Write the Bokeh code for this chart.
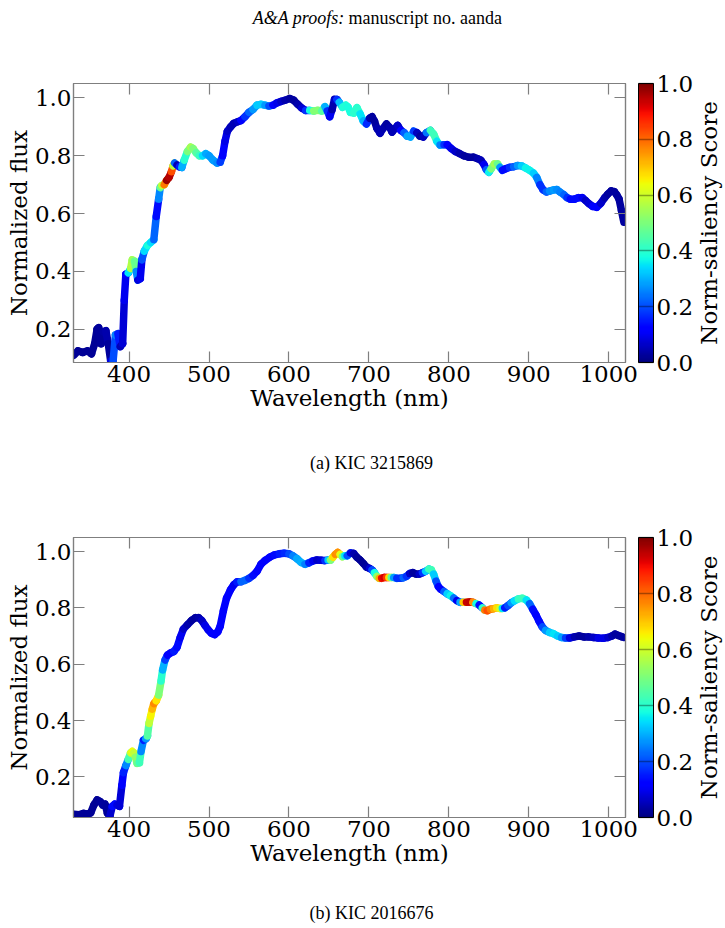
import numpy as np
from bokeh.plotting import figure
from bokeh.models import (LinearAxis, Range1d, ColorBar, LinearColorMapper,
                          FixedTicker, PrintfTickFormatter, Label, ColumnDataSource)
from bokeh.layouts import column, row
from bokeh.embed import file_html
from bokeh.resources import INLINE

# ---- KIC 3215869 ----
wl_a = [331, 336, 342, 348, 353, 357, 360, 362, 365, 368,
        371, 374, 377, 380, 383, 386, 389, 392, 394, 396,
        399, 402, 404, 407, 409, 411, 414, 416, 419, 423,
        427, 431, 434, 437, 439, 441, 444, 447, 450, 453,
        455, 457, 460, 463, 466, 469, 473, 477, 480, 484,
        488, 492, 496, 500, 505, 510, 514, 517, 520, 523,
        527, 531, 536, 540, 545, 550, 555, 560, 565, 570,
        575, 580, 585, 590, 595, 601, 606, 611, 616, 621,
        626, 631, 636, 641, 645, 648, 651, 654, 657, 660,
        663, 667, 671, 674, 677, 681, 685, 689, 693, 697,
        701, 704, 707, 710, 714, 718, 722, 726, 729, 733,
        736, 740, 744, 748, 752, 756, 760, 764, 768, 772,
        777, 781, 785, 789, 794, 798, 803, 808, 813, 819,
        825, 831, 836, 840, 844, 847, 850, 853, 857, 861,
        864, 867, 871, 876, 881, 886, 891, 896, 901, 906,
        910, 914, 918, 922, 926, 931, 935, 939, 944, 948,
        952, 957, 962, 967, 971, 975, 980, 985, 990, 995,
        999, 1003, 1007, 1010, 1013, 1016, 1019]
flux_a = [0.110, 0.125, 0.120, 0.125, 0.115, 0.150, 0.200, 0.205, 0.150, 0.190,
          0.195, 0.150, 0.090, 0.090, 0.180, 0.185, 0.140, 0.150, 0.300, 0.390,
          0.395, 0.410, 0.440, 0.435, 0.400, 0.370, 0.375, 0.440, 0.470, 0.490,
          0.500, 0.510, 0.590, 0.650, 0.690, 0.697, 0.700, 0.715, 0.725, 0.745,
          0.765, 0.775, 0.768, 0.762, 0.760, 0.785, 0.815, 0.830, 0.825, 0.810,
          0.800, 0.800, 0.807, 0.800, 0.785, 0.775, 0.778, 0.800, 0.850, 0.885,
          0.900, 0.912, 0.918, 0.922, 0.935, 0.950, 0.960, 0.975, 0.978, 0.975,
          0.972, 0.975, 0.983, 0.988, 0.992, 0.998, 0.992, 0.978, 0.965, 0.957,
          0.957, 0.955, 0.957, 0.955, 0.970, 0.955, 0.935, 0.960, 0.995, 0.995,
          0.985, 0.968, 0.975, 0.968, 0.950, 0.948, 0.966, 0.945, 0.920, 0.910,
          0.930, 0.935, 0.920, 0.895, 0.878, 0.895, 0.910, 0.898, 0.882, 0.895,
          0.905, 0.888, 0.880, 0.868, 0.865, 0.885, 0.880, 0.868, 0.865, 0.880,
          0.888, 0.875, 0.850, 0.837, 0.838, 0.838, 0.825, 0.815, 0.808, 0.800,
          0.795, 0.795, 0.790, 0.785, 0.770, 0.752, 0.743, 0.755, 0.772, 0.772,
          0.760, 0.750, 0.755, 0.760, 0.762, 0.766, 0.765, 0.758, 0.750, 0.740,
          0.725, 0.700, 0.682, 0.675, 0.678, 0.682, 0.683, 0.675, 0.665, 0.655,
          0.650, 0.650, 0.655, 0.655, 0.645, 0.635, 0.625, 0.622, 0.635, 0.655,
          0.668, 0.678, 0.676, 0.665, 0.650, 0.610, 0.570]
score_a = [0.02, 0.02, 0.02, 0.02, 0.02, 0.02, 0.02, 0.02, 0.03, 0.02,
           0.05, 0.03, 0.02, 0.15, 0.25, 0.25, 0.05, 0.05, 0.10, 0.10,
           0.15, 0.55, 0.58, 0.50, 0.45, 0.08, 0.08, 0.12, 0.30, 0.38,
           0.38, 0.30, 0.15, 0.12, 0.40, 0.55, 0.62, 0.95, 1.00, 0.90,
           0.75, 0.40, 0.05, 0.05, 0.25, 0.35, 0.45, 0.55, 0.55, 0.45,
           0.45, 0.38, 0.30, 0.28, 0.28, 0.28, 0.25, 0.12, 0.10, 0.08,
           0.05, 0.05, 0.05, 0.08, 0.15, 0.20, 0.25, 0.30, 0.35, 0.30,
           0.25, 0.15, 0.10, 0.08, 0.05, 0.03, 0.03, 0.03, 0.05, 0.10,
           0.25, 0.50, 0.52, 0.50, 0.40, 0.20, 0.15, 0.05, 0.03, 0.10,
           0.25, 0.38, 0.40, 0.38, 0.38, 0.38, 0.42, 0.38, 0.32, 0.28,
           0.05, 0.03, 0.03, 0.03, 0.05, 0.05, 0.03, 0.03, 0.05, 0.05,
           0.05, 0.08, 0.15, 0.28, 0.30, 0.28, 0.08, 0.03, 0.03, 0.08,
           0.40, 0.45, 0.40, 0.30, 0.20, 0.15, 0.10, 0.08, 0.05, 0.03,
           0.03, 0.03, 0.03, 0.05, 0.05, 0.15, 0.28, 0.45, 0.55, 0.55,
           0.40, 0.15, 0.12, 0.15, 0.20, 0.25, 0.30, 0.35, 0.38, 0.35,
           0.30, 0.20, 0.15, 0.20, 0.25, 0.28, 0.28, 0.25, 0.25, 0.20,
           0.15, 0.12, 0.15, 0.12, 0.08, 0.05, 0.10, 0.15, 0.08, 0.05,
           0.03, 0.03, 0.03, 0.03, 0.03, 0.03, 0.03]

# ---- KIC 2016676 ----
wl_b = [331, 337, 343, 348, 352, 356, 360, 364, 367, 370,
        373, 376, 379, 382, 385, 388, 391, 393, 396, 399,
        402, 404, 406, 408, 410, 413, 415, 418, 421, 423,
        425, 427, 429, 431, 434, 437, 440, 442, 445, 448,
        452, 456, 460, 464, 468, 473, 478, 483, 487, 491,
        495, 499, 503, 507, 511, 514, 518, 522, 527, 531,
        535, 540, 545, 550, 555, 560, 565, 570, 576, 582,
        588, 594, 600, 605, 610, 615, 620, 625, 630, 635,
        640, 645, 649, 652, 655, 658, 661, 664, 667, 670,
        673, 677, 681, 685, 689, 693, 697, 701, 704, 707,
        710, 713, 716, 719, 722, 725, 728, 731, 735, 739,
        743, 747, 751, 755, 759, 763, 767, 771, 775, 778,
        781, 784, 787, 790, 794, 798, 802, 806, 810, 814,
        818, 822, 826, 830, 834, 838, 842, 845, 848, 852,
        856, 860, 864, 867, 870, 874, 878, 882, 887, 892,
        897, 901, 905, 909, 913, 917, 921, 926, 931, 936,
        941, 946, 951, 957, 963, 969, 975, 981, 987, 993,
        999, 1004, 1008, 1012, 1016, 1019]
flux_b = [0.067, 0.065, 0.070, 0.068, 0.072, 0.100, 0.118, 0.112, 0.100, 0.103,
          0.070, 0.060, 0.095, 0.103, 0.100, 0.095, 0.170, 0.215, 0.240, 0.262,
          0.285, 0.290, 0.285, 0.270, 0.248, 0.250, 0.290, 0.330, 0.335, 0.345,
          0.390, 0.415, 0.440, 0.460, 0.470, 0.490, 0.540, 0.580, 0.615, 0.632,
          0.640, 0.645, 0.660, 0.695, 0.725, 0.740, 0.755, 0.765, 0.765, 0.755,
          0.738, 0.722, 0.710, 0.705, 0.715, 0.735, 0.790, 0.835, 0.865, 0.882,
          0.892, 0.893, 0.898, 0.905, 0.915, 0.930, 0.955, 0.968, 0.980, 0.988,
          0.992, 0.994, 0.992, 0.985, 0.975, 0.962, 0.955, 0.960, 0.967, 0.970,
          0.969, 0.968, 0.970, 0.970, 0.980, 0.990, 0.997, 0.990, 0.982, 0.985,
          0.985, 0.995, 0.993, 0.980, 0.970, 0.958, 0.945, 0.940, 0.935, 0.925,
          0.912, 0.905, 0.905, 0.908, 0.908, 0.908, 0.908, 0.908, 0.905, 0.905,
          0.907, 0.912, 0.922, 0.925, 0.920, 0.920, 0.925, 0.930, 0.938, 0.935,
          0.920, 0.895, 0.875, 0.866, 0.858, 0.850, 0.843, 0.835, 0.826, 0.820,
          0.820, 0.820, 0.821, 0.820, 0.815, 0.810, 0.800, 0.792, 0.790, 0.795,
          0.797, 0.800, 0.798, 0.798, 0.800, 0.808, 0.818, 0.825, 0.832, 0.834,
          0.828, 0.815, 0.795, 0.775, 0.752, 0.732, 0.720, 0.713, 0.708, 0.700,
          0.695, 0.693, 0.693, 0.697, 0.700, 0.697, 0.697, 0.695, 0.693, 0.692,
          0.695, 0.700, 0.707, 0.702, 0.698, 0.695]
score_b = [0.02, 0.02, 0.02, 0.02, 0.02, 0.02, 0.02, 0.02, 0.03, 0.03,
           0.02, 0.02, 0.12, 0.15, 0.12, 0.05, 0.10, 0.12, 0.20, 0.32,
           0.55, 0.65, 0.62, 0.55, 0.50, 0.45, 0.40, 0.12, 0.20, 0.35,
           0.55, 0.62, 0.68, 0.75, 0.78, 0.55, 0.45, 0.35, 0.25, 0.12,
           0.10, 0.15, 0.15, 0.12, 0.08, 0.05, 0.03, 0.03, 0.03, 0.05,
           0.08, 0.10, 0.10, 0.12, 0.12, 0.12, 0.12, 0.12, 0.12, 0.10,
           0.10, 0.20, 0.25, 0.20, 0.15, 0.12, 0.12, 0.12, 0.12, 0.12,
           0.15, 0.15, 0.18, 0.22, 0.28, 0.30, 0.30, 0.20, 0.12, 0.08,
           0.05, 0.10, 0.25, 0.40, 0.62, 0.72, 0.80, 0.70, 0.55, 0.40,
           0.30, 0.12, 0.05, 0.03, 0.02, 0.02, 0.02, 0.05, 0.10, 0.30,
           0.45, 0.60, 0.85, 0.95, 0.90, 0.80, 0.55, 0.35, 0.20, 0.15,
           0.20, 0.25, 0.10, 0.03, 0.03, 0.03, 0.10, 0.25, 0.40, 0.45,
           0.40, 0.25, 0.15, 0.10, 0.15, 0.28, 0.38, 0.35, 0.12, 0.08,
           0.50, 0.90, 0.97, 0.92, 0.60, 0.15, 0.12, 0.70, 0.85, 0.80,
           0.75, 0.70, 0.65, 0.55, 0.15, 0.15, 0.25, 0.30, 0.38, 0.45,
           0.40, 0.30, 0.15, 0.12, 0.12, 0.15, 0.25, 0.30, 0.35, 0.35,
           0.30, 0.25, 0.12, 0.05, 0.03, 0.03, 0.03, 0.05, 0.08, 0.10,
           0.08, 0.05, 0.03, 0.03, 0.03, 0.03]

x_ticks = [400, 500, 600, 700, 800, 900, 1000]
y_ticks = [0.2, 0.4, 0.6, 0.8, 1.0]
cbar_ticks = [0.0, 0.2, 0.4, 0.6, 0.8, 1.0]


def jet_palette(n=256):
    # matplotlib "jet" segment data
    t = np.linspace(0, 1, n)
    r = np.interp(t, [0, 0.35, 0.66, 0.89, 1], [0, 0, 1, 1, 0.5])
    g = np.interp(t, [0, 0.125, 0.375, 0.64, 0.91, 1], [0, 0, 1, 1, 0, 0])
    b = np.interp(t, [0, 0.11, 0.34, 0.65, 1], [0.5, 1, 1, 0, 0])
    return ["#%02x%02x%02x" % (int(round(ri * 255)), int(round(gi * 255)), int(round(bi * 255)))
            for ri, gi, bi in zip(r, g, b)]


JET = jet_palette()
AX_FONT = "DejaVu Serif"
PAGE_FONT = "Liberation Serif"
FRAME = "#7f7f7f"
FS = "23px"
LEFT = 73        # frame left edge in the page
FRAME_W = 552
MAIN_W = 695     # plot width; the rest of the row carries the colour-bar title
TITLE_W = 725 - MAIN_W


def style_axis(ax, ticks, fmt=None, labels=True):
    ax.ticker = FixedTicker(ticks=ticks)
    if fmt:
        ax.formatter = PrintfTickFormatter(format=fmt)
    ax.axis_line_color = FRAME
    ax.axis_line_width = 1.2
    ax.major_tick_line_color = FRAME
    ax.major_tick_line_width = 1.2
    ax.major_tick_in = 11
    ax.major_tick_out = 0
    ax.minor_tick_line_color = None
    ax.major_label_text_font = AX_FONT
    ax.major_label_text_font_size = FS
    ax.major_label_text_color = "black"
    ax.axis_label_text_font = AX_FONT
    ax.axis_label_text_font_size = FS
    ax.axis_label_text_font_style = "normal"
    ax.axis_label_text_color = "black"
    if not labels:
        ax.major_label_overrides = {t: " " for t in ticks}
        ax.major_label_text_font_size = "1px"
        ax.major_label_standoff = 0


def text_strip(height, items):
    """A bare strip holding page text (header / sub-captions); frame laid out like the plots."""
    s = figure(width=725, height=height, frame_width=FRAME_W, frame_height=height,
               x_range=Range1d(0, 1), y_range=Range1d(0, 1),
               x_axis_type=None, y_axis_type=None,
               min_border_left=LEFT, min_border_right=725 - LEFT - FRAME_W,
               min_border_top=0, min_border_bottom=0,
               output_backend="svg", toolbar_location=None)
    s.outline_line_color = None
    s.grid.visible = False
    for X, Y, text, kw in items:
        s.add_layout(Label(x=X - LEFT, y=height - Y, x_units="screen", y_units="screen",
                           text=text, text_color="black", text_font=PAGE_FONT,
                           text_font_size="18px", text_baseline="middle", **kw))
    return s


def cbar_title(height, top, frame_h):
    """Narrow strip to the right of the colour bar with its upright title."""
    t = figure(width=TITLE_W, height=height, frame_width=TITLE_W, frame_height=frame_h,
               x_range=Range1d(0, 1), y_range=Range1d(0, 1),
               x_axis_type=None, y_axis_type=None,
               min_border_left=0, min_border_right=0, min_border_top=top,
               min_border_bottom=height - top - frame_h,
               output_backend="svg", toolbar_location=None)
    t.outline_line_color = None
    t.grid.visible = False
    t.add_layout(Label(x=707 - MAIN_W, y=frame_h / 2, x_units="screen", y_units="screen",
                       text="Norm-saliency Score", angle=90, angle_units="deg",
                       text_align="center", text_baseline="middle",
                       text_font=AX_FONT, text_font_size=FS, text_color="black"))
    return t


def panel(wl, flux, score, ymin, height, top, frame_h):
    p = figure(width=MAIN_W, height=height, frame_width=FRAME_W, frame_height=frame_h,
               x_range=Range1d(330.5, 1021), y_range=Range1d(ymin, 1.05),
               min_border_left=LEFT, min_border_right=MAIN_W - LEFT - FRAME_W,
               min_border_top=top, min_border_bottom=height - top - frame_h,
               output_backend="svg", toolbar_location=None)
    p.grid.visible = False
    p.outline_line_color = FRAME
    p.outline_line_width = 1.2
    p.background_fill_color = "white"
    p.border_fill_color = "white"

    style_axis(p.xaxis[0], x_ticks)
    style_axis(p.yaxis[0], y_ticks, "%.1f")
    p.xaxis[0].axis_label = "Wavelength (nm)"
    p.xaxis[0].axis_label_standoff = 0
    p.xaxis[0].major_label_standoff = 3
    p.yaxis[0].axis_label = "Normalized flux"
    p.yaxis[0].axis_label_standoff = 0
    p.yaxis[0].major_label_standoff = 2

    top_ax = LinearAxis()
    style_axis(top_ax, x_ticks, labels=False)
    p.add_layout(top_ax, "above")
    right_ax = LinearAxis()
    style_axis(right_ax, y_ticks, labels=False)
    right_ax.major_label_standoff = 10   # gap between frame and colour bar
    p.add_layout(right_ax, "right")

    mapper = LinearColorMapper(palette=JET, low=0, high=1)
    src = ColumnDataSource(dict(
        x0=wl[:-1], y0=flux[:-1], x1=wl[1:], y1=flux[1:],
        s=[(a + b) / 2 for a, b in zip(score[:-1], score[1:])]))
    p.segment("x0", "y0", "x1", "y1", source=src, line_width=7.5,
              line_cap="round", line_color={"field": "s", "transform": mapper})

    cb = ColorBar(color_mapper=mapper, ticker=FixedTicker(ticks=cbar_ticks),
                  formatter=PrintfTickFormatter(format="%.1f"),
                  width=15, height=frame_h, padding=0, margin=0,
                  label_standoff=3, major_tick_in=15, major_tick_out=0,
                  major_tick_line_color="#000000", major_tick_line_alpha=0.35,
                  major_tick_line_width=1.5, minor_tick_line_color=None,
                  bar_line_color="black", bar_line_width=1,
                  major_label_text_font=AX_FONT, major_label_text_font_size=FS,
                  major_label_text_color="black", background_fill_color=None,
                  border_line_color=None)
    p.add_layout(cb, "right")
    return row(p, cbar_title(height, top, frame_h), spacing=0)


header = text_strip(40, [(344, 17, "A&A proofs:", dict(text_align="right", text_font_style="italic")),
                         (348, 17, "manuscript no. aanda", dict(text_align="left"))])
r1 = panel(wl_a, flux_a, score_a, 0.085, 400, 43, 279)
cap1 = text_strip(45, [(371, 22, "(a) KIC 3215869", dict(text_align="center"))])
r2 = panel(wl_b, flux_b, score_b, 0.0555, 405, 52, 280)
cap2 = text_strip(38, [(371, 22, "(b) KIC 2016676", dict(text_align="center"))])

layout = column(header, r1, cap1, r2, cap2, spacing=0)
open("out.html", "w").write(file_html(layout, INLINE))
